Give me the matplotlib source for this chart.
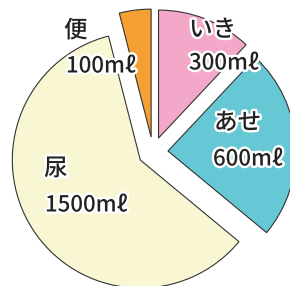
import matplotlib
matplotlib.use("Agg")
import matplotlib.pyplot as plt
import matplotlib.patheffects as pe

plt.rcParams['font.family'] = ['Noto Sans CJK JP', 'DejaVu Sans']

categories = ["いき", "あせ", "尿", "便"]
values = [300, 600, 1500, 100]
value_labels = ["300mℓ", "600mℓ", "1500mℓ", "100mℓ"]
colors = ["#F3A8C9", "#66C8D5", "#F8F6D3", "#F5A032"]

W, H = 290, 286
fig = plt.figure(figsize=(W / 100, H / 100), dpi=100)
ax = fig.add_axes([0, 0, 1, 1])

ax.pie(values, colors=colors, startangle=90, counterclock=False,
       radius=128, center=(153, H - 152), explode=[15] * len(values),
       wedgeprops=dict(edgecolor="#333333", linewidth=0.8))
ax.set_xlim(0, W)
ax.set_ylim(0, H)
ax.set_aspect('equal')
ax.axis('off')

# label positions (pixel coords, left x, center y)
name_pos = [(189, 30), (214, 123), (44, 169), (64, 31)]
val_pos = [(189, 63), (213, 159), (45, 205), (66, 66)]
stroke = [pe.withStroke(linewidth=3.5, foreground="white")]
for name, val, (nx, ny), (vx, vy) in zip(categories, value_labels, name_pos, val_pos):
    ax.text(nx, H - ny, name, ha='left', va='center', fontsize=17,
            color="#222222", fontweight='medium', path_effects=stroke)
    ax.text(vx, H - vy, val, ha='left', va='center', fontsize=16,
            color="#222222", fontweight='medium', path_effects=stroke)

fig.savefig("out.png", dpi=100)
